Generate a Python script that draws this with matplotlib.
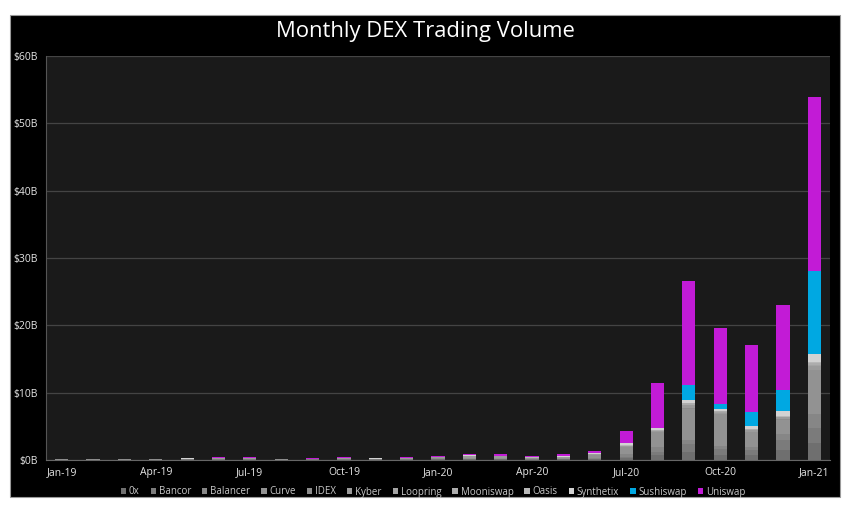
import matplotlib
matplotlib.use("Agg")
import matplotlib.pyplot as plt
from matplotlib.patches import Rectangle
import numpy as np

months = ["Jan-19", "Feb-19", "Mar-19", "Apr-19", "May-19", "Jun-19", "Jul-19", "Aug-19",
          "Sep-19", "Oct-19", "Nov-19", "Dec-19", "Jan-20", "Feb-20", "Mar-20", "Apr-20",
          "May-20", "Jun-20", "Jul-20", "Aug-20", "Sep-20", "Oct-20", "Nov-20", "Dec-20", "Jan-21"]

# Monthly volume in $B
zerox = [0.02, 0.02, 0.03, 0.03, 0.04, 0.05, 0.05, 0.03, 0.04, 0.05, 0.04, 0.06,
         0.08, 0.10, 0.10, 0.06, 0.08, 0.12, 0.30, 0.70, 1.20, 0.80, 0.80, 1.50, 2.50]
bancor = [0.03, 0.03, 0.03, 0.03, 0.05, 0.06, 0.06, 0.03, 0.04, 0.05, 0.04, 0.06,
          0.06, 0.08, 0.08, 0.05, 0.06, 0.10, 0.20, 0.50, 1.20, 0.80, 0.70, 1.50, 2.20]
balancer = [0, 0, 0, 0, 0, 0, 0, 0, 0, 0, 0, 0,
            0, 0, 0.01, 0.05, 0.08, 0.12, 0.35, 0.80, 0.60, 0.50, 0.50, 0.80, 2.10]
curve = [0, 0, 0, 0, 0, 0, 0, 0, 0, 0, 0, 0,
         0.05, 0.10, 0.10, 0.07, 0.10, 0.40, 1.10, 2.10, 4.60, 4.70, 2.10, 2.20, 6.50]
idex = [0.03, 0.03, 0.03, 0.03, 0.04, 0.05, 0.05, 0.02, 0.03, 0.04, 0.03, 0.04,
        0.04, 0.04, 0.03, 0.02, 0.02, 0.02, 0.03, 0.05, 0.10, 0.05, 0.05, 0.05, 0.10]
kyber = [0.03, 0.03, 0.04, 0.04, 0.06, 0.08, 0.08, 0.04, 0.06, 0.10, 0.07, 0.12,
         0.15, 0.25, 0.20, 0.10, 0.12, 0.15, 0.15, 0.20, 0.40, 0.20, 0.30, 0.30, 0.60]
loopring = [0, 0, 0, 0, 0, 0, 0, 0, 0, 0, 0, 0,
            0.01, 0.01, 0.01, 0.01, 0.01, 0.01, 0.01, 0.01, 0.01, 0.01, 0.01, 0.01, 0.10]
mooniswap = [0, 0, 0, 0, 0, 0, 0, 0, 0, 0, 0, 0,
             0, 0, 0, 0, 0, 0, 0, 0.05, 0.30, 0.20, 0.10, 0.10, 0.30]
oasis = [0.01, 0.01, 0.02, 0.01, 0.02, 0.03, 0.03, 0.01, 0.02, 0.03, 0.02, 0.04,
         0.05, 0.06, 0.05, 0.03, 0.03, 0.04, 0.05, 0.05, 0.10, 0.05, 0.05, 0.05, 0.10]
synthetix = [0.02, 0.02, 0.02, 0.02, 0.03, 0.03, 0.03, 0.02, 0.03, 0.03, 0.03, 0.04,
             0.05, 0.07, 0.07, 0.03, 0.05, 0.05, 0.30, 0.30, 0.40, 0.20, 0.50, 0.80, 1.30]
sushiswap = [0, 0, 0, 0, 0, 0, 0, 0, 0, 0, 0, 0,
             0, 0, 0, 0, 0, 0, 0, 0.05, 2.20, 0.80, 2.00, 3.10, 12.20]
uniswap = [0.03, 0.03, 0.04, 0.05, 0.06, 0.08, 0.08, 0.05, 0.06, 0.08, 0.06, 0.12,
           0.10, 0.15, 0.20, 0.20, 0.30, 0.40, 1.80, 6.60, 15.40, 11.30, 9.90, 12.60, 25.90]

series_names = ["0x", "Bancor", "Balancer", "Curve", "IDEX", "Kyber", "Loopring",
                "Mooniswap", "Oasis", "Synthetix", "Sushiswap", "Uniswap"]
series_values = [zerox, bancor, balancer, curve, idex, kyber, loopring,
                 mooniswap, oasis, synthetix, sushiswap, uniswap]
series_colors = ["#6f6f6f", "#7b7b7b", "#868686", "#929292", "#8c8c8c", "#9b9b9b",
                 "#a4a4a4", "#adadad", "#b8b8b8", "#d2d2d2", "#00a8e2", "#c21bd6"]

y_ticks = [0, 10, 20, 30, 40, 50, 60]
y_labels = ["$0B", "$10B", "$20B", "$30B", "$40B", "$50B", "$60B"]

plt.rcParams['font.family'] = ['Open Sans', 'DejaVu Sans']

fig = plt.figure(figsize=(8.52, 5.15), dpi=100)
fig.patch.set_facecolor("white")
fig.patches.append(Rectangle((10 / 852, 1 - 497 / 515), 830 / 852, 482 / 515,
                             transform=fig.transFigure, facecolor="black",
                             edgecolor="#9a9a9a", linewidth=0.8, zorder=-5))

ax = fig.add_axes([46 / 852, 1 - 460 / 515, 784 / 852, 404 / 515])
ax.set_zorder(2)
ax.set_facecolor("#1a1a1a")

x = np.arange(len(months))
bottom = np.zeros(len(months))
handles = []
for name, vals, col in zip(series_names, series_values, series_colors):
    v = np.array(vals, dtype=float)
    b = ax.bar(x, v, width=0.42, bottom=bottom, color=col, label=name, zorder=3,
               linewidth=0)
    handles.append(b)
    bottom += v

ax.set_xlim(-0.5, len(months) - 0.5)
ax.set_ylim(0, 60)
ax.set_yticks(y_ticks)
ax.set_yticklabels(y_labels)
ax.set_xticks(x[::3])
ax.set_xticklabels([months[i] for i in range(0, len(months), 3)])
ax.tick_params(axis="both", length=0, colors="#e6e6e6", labelsize=7.5)
ax.tick_params(axis="y", pad=6)
ax.tick_params(axis="x", pad=5)

ax.grid(axis="y", color="#444444", linewidth=0.9, zorder=0)
ax.set_axisbelow(True)
for s in ["top", "right"]:
    ax.spines[s].set_visible(False)
ax.spines["left"].set_color("#555555")
ax.spines["bottom"].set_color("#666666")

fig.text(425 / 852, 1 - 32 / 515, "Monthly DEX Trading Volume", color="white",
         fontsize=15.8, ha="center", va="center")

leg = fig.legend(handles=handles, labels=series_names, loc="center",
                 bbox_to_anchor=(433 / 852, 1 - 492 / 515), ncol=12, frameon=False,
                 fontsize=7, handlelength=0.55, handleheight=0.55, handletextpad=0.3,
                 columnspacing=1.12, labelcolor="#c8c8c8")

fig.savefig("out.png", dpi=100, facecolor=fig.get_facecolor())
